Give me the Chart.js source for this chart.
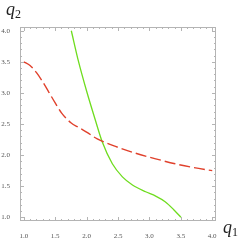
<!DOCTYPE html>
<html><head><meta charset="utf-8">
<script src="https://cdn.jsdelivr.net/npm/chart.js@4"></script>
<style>
html,body{margin:0;padding:0;background:#fff;}
#wrap{position:relative;width:245px;height:242px;}
canvas{position:absolute;left:0;top:0;}
.lab{position:absolute;font-family:"Liberation Serif",serif;color:#222;}
.lab i{font-size:18px;}
.lab sub{font-size:12px;vertical-align:-3px;font-style:normal;}
</style></head>
<body>
<div id="wrap">
<canvas id="c" width="245" height="242"></canvas>
<div class="lab" style="left:6px;top:-1px;"><i>q</i><sub>2</sub></div>
<div class="lab" style="left:223px;top:217px;"><i>q</i><sub>1</sub></div>
</div>
<script>
const redX   = [1.0, 1.1, 1.2, 1.3, 1.4, 1.5, 1.6, 1.75, 1.88, 2.0, 2.17, 2.46, 2.78, 3.10, 3.41, 3.7, 4.0];
const redY   = [3.5, 3.44, 3.33, 3.18, 3.01, 2.84, 2.68, 2.52, 2.44, 2.37, 2.26, 2.14, 2.03, 1.94, 1.86, 1.80, 1.75];
const greenX = [1.757, 1.87, 2.0, 2.14, 2.25, 2.41, 2.57, 2.73, 2.94, 3.10, 3.25, 3.38, 3.5];
const greenY = [4.0, 3.51, 3.03, 2.56, 2.21, 1.86, 1.65, 1.52, 1.41, 1.34, 1.25, 1.13, 1.0];
const xTicks = [1.0, 1.5, 2.0, 2.5, 3.0, 3.5, 4.0];
const yTicks = [1.0, 1.5, 2.0, 2.5, 3.0, 3.5, 4.0];
const axisMin = 0.94, axisMax = 4.06;

const frameColor = '#b4b4b4';
const framePlugin = {
  id: 'frame',
  afterDraw(chart) {
    const {ctx, chartArea: a, scales: {x, y}} = chart;
    ctx.save();
    ctx.strokeStyle = frameColor;
    ctx.lineWidth = 1;
    ctx.strokeRect(a.left + 0.5, a.top + 0.5, a.right - a.left - 1, a.bottom - a.top - 1);
    ctx.beginPath();
    for (let i = 0; i <= 30; i++) {
      const v = 1 + i * 0.1;
      const major = i % 5 === 0;
      const len = major ? 4 : 2;
      const px = Math.round(x.getPixelForValue(v)) + 0.5;
      ctx.moveTo(px, a.bottom); ctx.lineTo(px, a.bottom - len);
      ctx.moveTo(px, a.top); ctx.lineTo(px, a.top + len);
      const py = Math.round(y.getPixelForValue(v)) + 0.5;
      ctx.moveTo(a.left, py); ctx.lineTo(a.left + len, py);
      ctx.moveTo(a.right, py); ctx.lineTo(a.right - len, py);
    }
    ctx.stroke();
    ctx.restore();
  }
};

const toPts = (xs, ys) => xs.map((v, i) => ({x: v, y: ys[i]}));
const tickFont = {family: '"Liberation Serif", serif', size: 7};

new Chart(document.getElementById('c'), {
  type: 'line',
  data: {
    datasets: [
      {data: toPts(redX, redY), borderColor: '#e0412c', borderWidth: 1.4, borderDash: [11, 4],
       pointRadius: 0, cubicInterpolationMode: 'monotone', fill: false},
      {data: toPts(greenX, greenY), borderColor: '#6edc1e', borderWidth: 1.3,
       pointRadius: 0, cubicInterpolationMode: 'monotone', fill: false}
    ]
  },
  options: {
    responsive: false, animation: false,
    layout: {padding: {left: 0, top: 27, right: 29, bottom: 0}},
    plugins: {legend: {display: false}, tooltip: {enabled: false}},
    scales: {
      x: {type: 'linear', min: axisMin, max: axisMax,
          grid: {display: false}, border: {display: false},
          afterBuildTicks: s => { s.ticks = xTicks.map(v => ({value: v})); },
          afterFit: s => { s.height = 21; },
          ticks: {font: tickFont, color: '#555', padding: 3, maxRotation: 0, autoSkip: false,
                  callback: v => Number(v).toFixed(1)}},
      y: {type: 'linear', min: axisMin, max: axisMax,
          grid: {display: false}, border: {display: false},
          afterBuildTicks: s => { s.ticks = yTicks.map(v => ({value: v})); },
          afterFit: s => { s.width = 20; },
          ticks: {font: tickFont, color: '#555', padding: 2, autoSkip: false,
                  callback: v => Number(v).toFixed(1)}}
    }
  },
  plugins: [framePlugin]
});
</script>
</body></html>
